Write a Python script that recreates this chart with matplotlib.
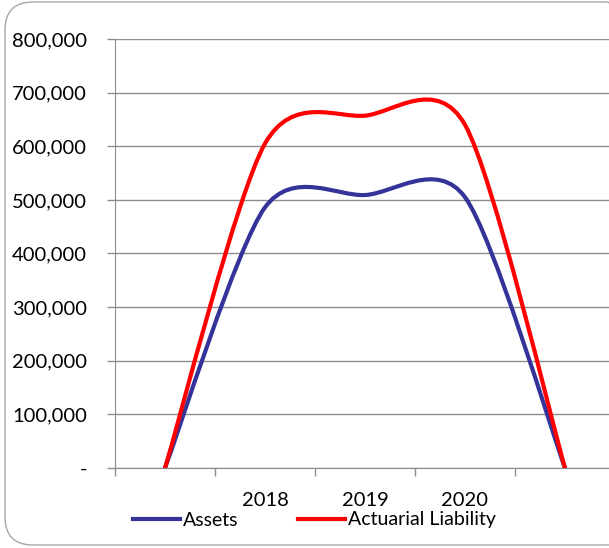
import matplotlib.pyplot as plt
from matplotlib.path import Path
from matplotlib.patches import PathPatch, FancyBboxPatch
from matplotlib.lines import Line2D
from matplotlib.ticker import FuncFormatter, FixedLocator

plt.rcParams['font.family'] = ['Lato', 'DejaVu Sans']

categories = ['', '2018', '2019', '2020', '']
assets = [0, 486000, 509000, 505000, 0]
liability = [0, 605000, 657000, 640000, 0]


def smooth_path(ys, k=0.14):
    # excel style smoothed line: cubic bezier through the points
    n = len(ys)
    verts = [(0, ys[0])]
    codes = [Path.MOVETO]
    for i in range(n - 1):
        yp = ys[i - 1] if i > 0 else ys[i]
        yn = ys[i + 2] if i + 2 < n else ys[i + 1]
        xp = i - 1 if i > 0 else i
        xn = i + 2 if i + 2 < n else i + 1
        c1 = (i + (i + 1 - xp) * k, ys[i] + (ys[i + 1] - yp) * k)
        c2 = (i + 1 - (xn - i) * k, ys[i + 1] - (yn - ys[i]) * k)
        verts += [c1, c2, (i + 1, ys[i + 1])]
        codes += [Path.CURVE4] * 3
    return Path(verts, codes)


fig = plt.figure(figsize=(6.09, 5.48), dpi=100)
ax = fig.add_axes([115 / 609, 1 - 468 / 548, 500 / 609, 429 / 548])

border = FancyBboxPatch((0.05, 0.03), 6.3, 5.43,
                        boxstyle="round,pad=0,rounding_size=0.28",
                        transform=fig.dpi_scale_trans, facecolor='none',
                        edgecolor='#a6a6a6', linewidth=1.0, zorder=0)
fig.patches.append(border)

for ys, col in [(assets, '#333399'), (liability, '#ff0000')]:
    ax.add_patch(PathPatch(smooth_path(ys), facecolor='none', edgecolor=col,
                           linewidth=3.0, capstyle='round', zorder=3))

ax.set_xlim(-0.5, 4.5)
ax.set_ylim(0, 800000)

ax.yaxis.set_major_locator(FixedLocator(range(0, 800001, 100000)))
ax.yaxis.set_major_formatter(FuncFormatter(lambda v, p: '-' if v == 0 else f'{v:,.0f}'))
ax.grid(axis='y', color='#8c8c8c', linewidth=1.0)
ax.set_axisbelow(True)

ax.xaxis.set_major_locator(FixedLocator([-0.5, 0.5, 1.5, 2.5, 3.5, 4.5]))
ax.xaxis.set_major_formatter(FuncFormatter(lambda v, p: ''))
ax.xaxis.set_minor_locator(FixedLocator(range(len(categories))))
ax.set_xticklabels(categories, minor=True)

ax.tick_params(axis='y', direction='out', length=6, width=1, color='#8c8c8c',
               labelsize=14.5, pad=14, labelcolor='black')
ax.tick_params(axis='x', which='major', direction='out', length=6, width=1,
               color='#8c8c8c')
ax.tick_params(axis='x', which='minor', length=0, labelsize=14.5, pad=17)

for s in ['top', 'right']:
    ax.spines[s].set_visible(False)
ax.spines['left'].set_color('#8c8c8c')
ax.spines['bottom'].set_color('#8c8c8c')

handles = [Line2D([], [], color='#333399', linewidth=3.0),
           Line2D([], [], color='#ff0000', linewidth=3.0)]
fig.legend(handles, ['Assets', 'Actuarial Liability'], loc='center left',
           bbox_to_anchor=(133 / 609, 1 - 520 / 548), ncol=2, frameon=False,
           fontsize=14, handlelength=2.4, handletextpad=0.15, columnspacing=3.1,
           borderaxespad=0, borderpad=0, handleheight=0.5)

fig.savefig('out.png', dpi=100)
